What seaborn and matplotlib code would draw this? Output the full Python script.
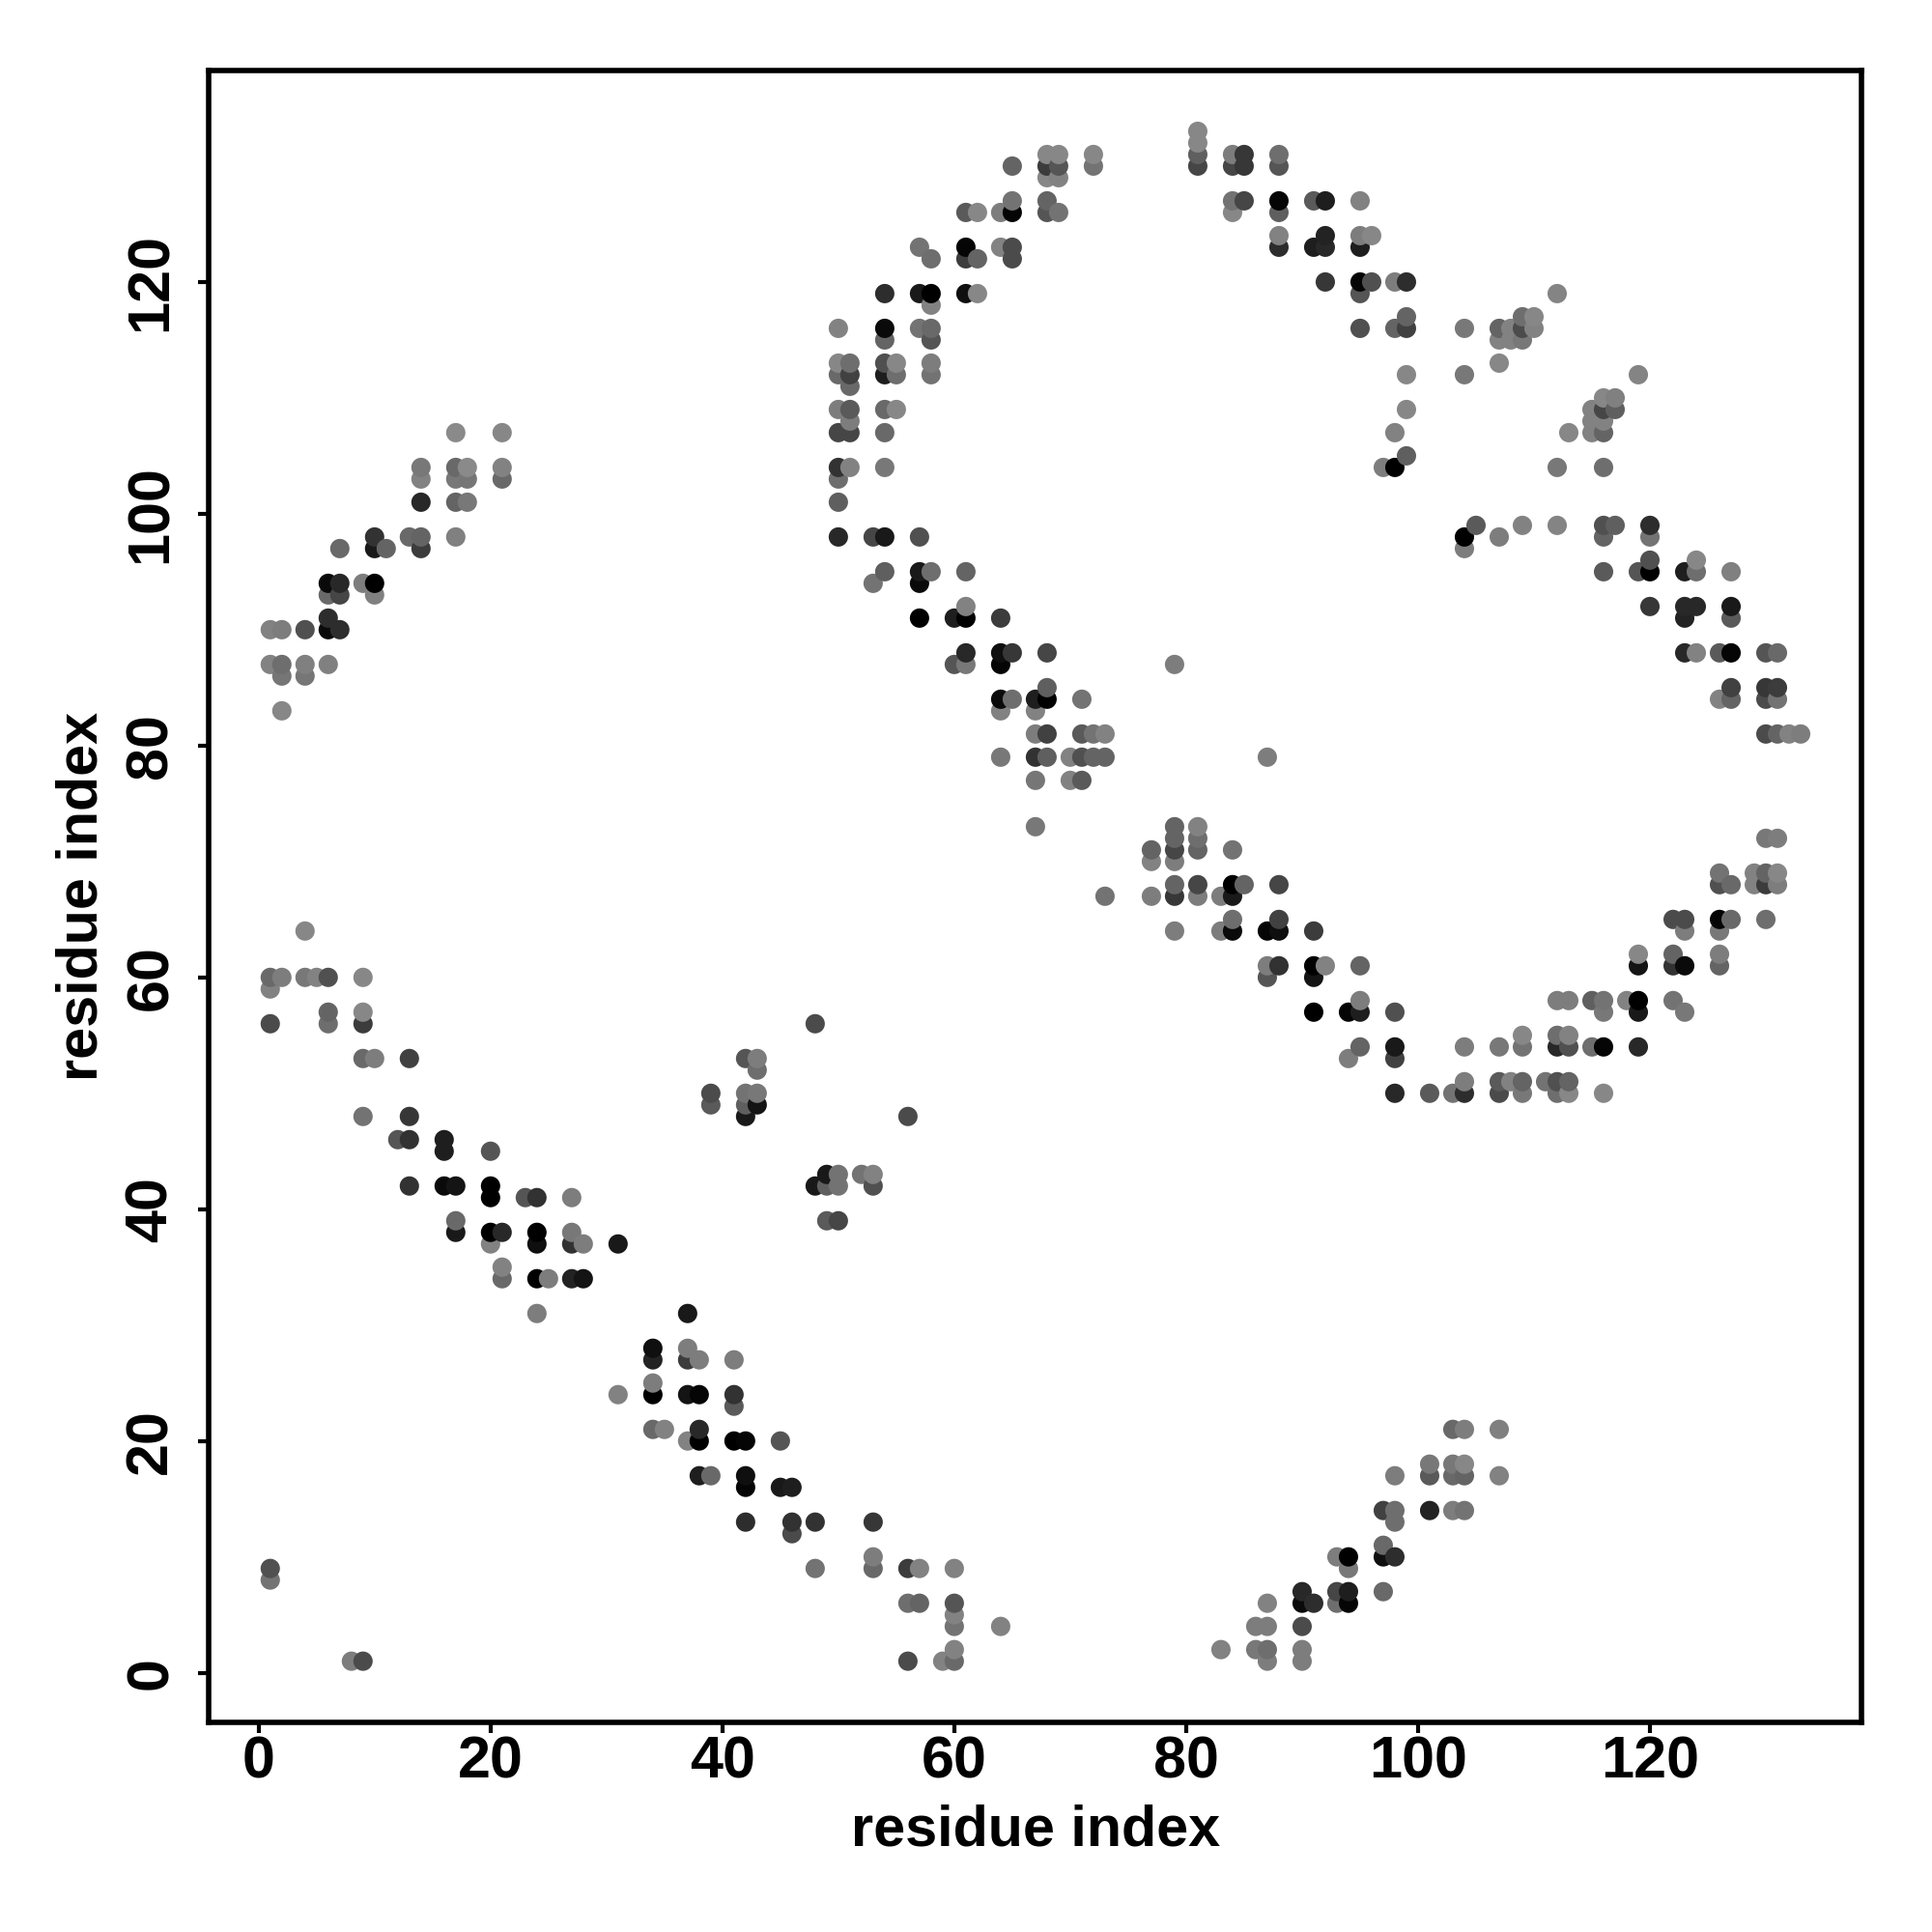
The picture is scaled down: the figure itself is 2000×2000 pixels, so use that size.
import pandas as pd
import matplotlib
matplotlib.use("Agg")
import matplotlib.pyplot as plt
import seaborn as sns

# contact map, one entry per row of the plot: row_y[k] holds the points row_x[k] with grey row_shade[k]
row_y = [133, 132, 131, 130, 129, 127, 126, 124, 123, 122, 120, 119, 118, 117, 116, 115, 113, 112, 111, 110,
         109, 108, 107, 105, 104, 103, 101, 99, 98, 97, 96, 95, 94, 93, 92, 91, 90, 88, 87, 86,
         85, 84, 83, 81, 79, 77, 73, 72, 71, 70, 69, 68, 67, 65, 64, 62, 61, 60, 59, 58,
         57, 56, 55, 54, 53, 52, 51, 50, 49, 48, 46, 45, 43, 42, 41, 39, 38, 37, 35, 34,
         31, 28, 27, 25, 24, 23, 21, 20, 18, 17, 16, 14, 13, 12, 11, 10, 9, 8, 7, 6,
         5, 4, 2, 1]

row_x = [
    [81], [81], [68, 69, 72, 81, 84, 85, 88], [65, 68, 69, 72, 81, 84, 85, 88], [68, 69],
    [65, 68, 84, 85, 88, 91, 92, 95], [61, 62, 64, 65, 68, 69, 84, 88], [88, 92, 95, 96],
    [57, 61, 64, 65, 88, 91, 92, 95], [58, 61, 62, 65], [92, 95, 96, 98, 99],
    [54, 57, 58, 61, 62, 95, 112], [58], [99, 109, 110],
    [50, 54, 57, 58, 95, 98, 99, 104, 107, 108, 109, 110], [54, 58, 107, 108, 109],
    [50, 51, 54, 55, 58, 107], [50, 51, 54, 55, 58, 99, 104, 119], [51], [116, 117],
    [50, 51, 54, 55, 99, 115, 116, 117], [51, 115, 116], [17, 21, 50, 51, 54, 98, 113, 115, 116], [99],
    [14, 17, 18, 21, 50, 51, 54, 97, 98, 112, 116], [14, 17, 18, 21, 50], [14, 17, 18, 50],
    [105, 109, 112, 116, 117, 120], [10, 13, 14, 17, 50, 53, 54, 57, 104, 107, 116, 120],
    [7, 10, 11, 14, 104], [120, 124], [54, 57, 58, 61, 116, 119, 120, 123, 124, 127],
    [6, 7, 9, 10, 53, 57], [6, 7, 10], [61, 120, 123, 124, 127], [6, 57, 60, 61, 64, 123, 127],
    [1, 2, 4, 6, 7], [61, 64, 65, 68, 123, 124, 126, 127, 130, 131], [1, 2, 4, 6, 60, 61, 64, 79], [2, 4],
    [68, 127, 130, 131], [64, 65, 67, 68, 71, 126, 127, 130, 131], [2, 64, 67],
    [67, 68, 71, 72, 73, 130, 131, 132, 133], [64, 67, 68, 70, 71, 72, 73, 87], [67, 70, 71],
    [67, 79, 81], [79, 81, 130, 131], [77, 79, 81, 84], [77, 79], [126, 129, 130, 131],
    [79, 81, 84, 85, 88, 126, 127, 129, 130, 131], [73, 77, 79, 81, 83, 84],
    [84, 88, 122, 123, 126, 127, 130], [4, 79, 83, 84, 87, 88, 91, 123, 126], [119, 122, 126],
    [87, 88, 91, 92, 95, 119, 122, 123, 126], [1, 2, 4, 5, 6, 9, 87, 91], [1],
    [95, 112, 113, 115, 116, 118, 119, 122], [6, 9, 91, 94, 95, 98, 116, 119, 123], [1, 6, 9, 48],
    [109, 112, 113], [95, 98, 104, 107, 109, 112, 113, 115, 116, 119], [9, 10, 13, 42, 43, 94, 98], [43],
    [104, 107, 108, 109, 111, 112, 113], [39, 42, 43, 98, 101, 103, 104, 107, 109, 112, 113, 116],
    [39, 42, 43], [9, 13, 42, 56], [12, 13, 16], [16, 20], [49, 50, 52, 53],
    [13, 16, 17, 20, 48, 49, 50, 53], [20, 23, 24, 27], [17, 49, 50], [17, 20, 21, 24, 27],
    [20, 24, 27, 28, 31], [21], [21, 24, 25, 27, 28], [24, 37], [34, 37], [34, 37, 38, 41], [34],
    [31, 34, 37, 38, 41], [41], [34, 35, 38, 103, 104, 107], [37, 38, 41, 42, 45], [101, 103, 104],
    [38, 39, 42, 98, 101, 103, 104, 107], [42, 45, 46], [97, 98, 101, 103, 104], [42, 46, 48, 53, 98],
    [46], [97], [53, 93, 94, 97, 98], [1, 48, 53, 56, 57, 60, 94], [1], [90, 93, 94, 97],
    [56, 57, 60, 87, 90, 91, 93, 94], [60], [60, 64, 86, 87, 90], [60, 83, 86, 87, 90],
    [8, 9, 56, 59, 60, 87, 90],
]

row_shade = [
    [135], [135], [135, 135, 135, 95, 125, 55, 110], [100, 60, 85, 115, 70, 70, 55, 85], [135, 130],
    [115, 100, 115, 70, 5, 90, 30, 130], [90, 135, 125, 5, 85, 115, 135, 95], [130, 35, 125, 135],
    [115, 5, 130, 75, 45, 30, 40, 30], [110, 60, 100, 75], [55, 5, 80, 125, 45],
    [45, 25, 0, 15, 135, 85, 132], [130], [100, 110, 135],
    [130, 10, 115, 105, 80, 100, 65, 120, 100, 130, 75, 130], [100, 85, 130, 130, 120],
    [135, 110, 80, 135, 125, 135], [105, 65, 30, 110, 115, 135, 120, 132], [105], [135, 128],
    [125, 90, 105, 135, 135, 130, 70, 95], [125, 130, 130], [138, 135, 70, 70, 105, 130, 135, 130, 100], [95],
    [120, 105, 138, 130, 50, 130, 120, 125, 0, 120, 110], [130, 120, 118, 105, 110], [40, 100, 120, 95],
    [90, 130, 132, 80, 95, 45], [50, 105, 100, 128, 40, 70, 25, 80, 0, 125, 100, 115],
    [105, 25, 100, 60, 125], [80, 135], [95, 25, 110, 100, 90, 85, 0, 30, 110, 128],
    [10, 40, 125, 0, 115, 10], [105, 70, 128], [130, 55, 40, 40, 25], [45, 0, 30, 0, 60, 35, 90],
    [130, 125, 80, 10, 45], [40, 15, 55, 70, 40, 130, 90, 5, 85, 105], [130, 110, 128, 128, 85, 120, 5, 125], [118, 118],
    [95, 65, 55, 60], [10, 110, 30, 0, 115, 130, 100, 75, 115], [135, 130, 130],
    [125, 65, 90, 115, 130, 75, 100, 130, 125], [120, 50, 95, 130, 80, 100, 100, 125], [118, 130, 90],
    [120, 100, 130], [100, 110, 120, 125], [100, 70, 100, 115], [130, 125], [115, 130, 100, 135],
    [100, 70, 0, 100, 70, 80, 105, 130, 60, 125], [115, 125, 55, 125, 125, 25],
    [110, 65, 75, 75, 5, 105, 110], [135, 125, 125, 10, 5, 15, 60, 125, 120], [135, 100, 125],
    [125, 50, 0, 130, 100, 20, 50, 10, 100], [105, 125, 120, 130, 80, 135, 85, 20], [130],
    [125, 125, 125, 95, 115, 130, 0, 115], [100, 135, 0, 5, 30, 80, 120, 25, 120], [75, 110, 60, 75],
    [135, 110, 130], [100, 25, 125, 120, 115, 40, 80, 110, 5, 40], [105, 125, 65, 85, 125, 125, 65], [110],
    [125, 90, 130, 100, 115, 80, 100], [75, 115, 120, 40, 90, 115, 45, 75, 120, 110, 135, 135],
    [90, 95, 20], [115, 55, 25, 75], [85, 50, 30], [30, 85], [25, 115, 115, 130],
    [50, 10, 20, 0, 25, 95, 115, 80], [0, 85, 50, 125], [105, 90, 70], [25, 0, 40, 0, 120],
    [130, 15, 50, 125, 25], [130], [105, 0, 125, 35, 20], [125, 25], [15, 125], [35, 60, 125, 125], [125],
    [130, 0, 20, 5, 50], [90], [105, 130, 40, 105, 125, 128], [130, 0, 0, 5, 85], [120, 120, 135],
    [30, 105, 15, 125, 90, 105, 100, 130], [5, 25, 30], [65, 110, 35, 125, 115], [45, 50, 50, 55, 110],
    [75], [105], [125, 125, 0, 15, 45], [80, 115, 105, 60, 130, 130, 120], [115], [40, 70, 30, 105],
    [110, 100, 85, 130, 10, 45, 110, 5], [130], [115, 130, 125, 125, 75], [130, 130, 120, 110, 125],
    [125, 75, 75, 130, 105, 125, 125],
]

axis_ticks = [0, 20, 40, 60, 80, 100, 120]
axis_label = "residue index"

records = []
for y, xs, shades in zip(row_y, row_x, row_shade, strict=True):
    for x, s in zip(xs, shades, strict=True):
        records.append({"i": x, "j": y, "shade": s})
df = pd.DataFrame(records).sort_values(["i", "j"])

sns.set_style("ticks")
plt.rcParams["font.family"] = ["Liberation Sans", "DejaVu Sans"]
plt.rcParams["font.weight"] = "bold"

fig, ax = plt.subplots(figsize=(10, 10), dpi=200)
fig.subplots_adjust(left=0.1082, right=0.9637, top=0.9637, bottom=0.1085)

grey = {s: (s / 255, s / 255, s / 255) for s in df["shade"].unique()}
sns.scatterplot(data=df, x="i", y="j", hue="shade", palette=grey, s=52, linewidth=0, legend=False, ax=ax, zorder=3)

ax.set_xlim(-4.28, 138.28)
ax.set_ylim(-4.28, 138.28)
ax.set_xticks(axis_ticks)
ax.set_yticks(axis_ticks)
ax.tick_params(axis="x", length=4, width=1.5, color="black", labelcolor="black", labelsize=22, pad=1)
ax.tick_params(axis="y", length=4, width=1.5, color="black", labelcolor="black", labelsize=22, pad=7)
plt.setp(ax.get_yticklabels(), rotation=90, va="center")
ax.set_xlabel(axis_label, fontsize=21.4, fontweight="bold", color="black", labelpad=5)
ax.set_ylabel(axis_label, fontsize=21.4, fontweight="bold", color="black", labelpad=6)
for spine in ax.spines.values():
    spine.set_linewidth(2)
    spine.set_color("black")

plt.savefig("out.png", dpi=200)
